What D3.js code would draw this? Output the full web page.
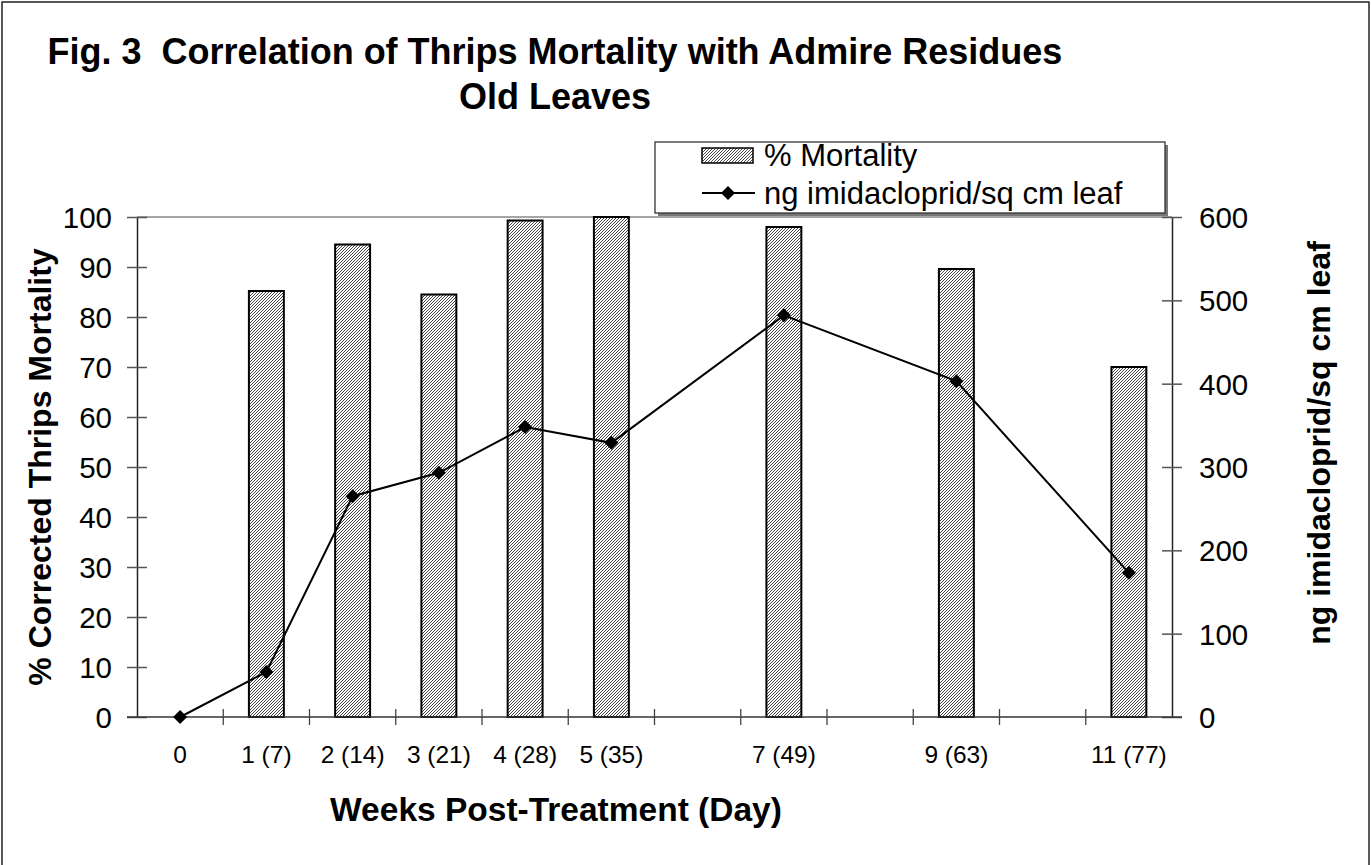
<!DOCTYPE html>
<html><head><meta charset="utf-8">
<script src="https://cdn.jsdelivr.net/npm/d3@7"></script>
<style>body{margin:0;background:#fff;} svg{display:block;} text{font-family:Arial,"Liberation Sans",sans-serif;fill:#000;}</style>
</head><body><svg id="c" width="1371" height="865"></svg>
<script>
const weeks = ["0","1","2","3","4","5","6","7","8","9","10","11"];
const weekLabels = ["0","1 (7)","2 (14)","3 (21)","4 (28)","5 (35)","","7 (49)","","9 (63)","","11 (77)"];
const mortality = [null,85.2,94.5,84.5,99.3,100,null,98,null,89.6,null,70];
const residue = [0,54,265,293,348,329,null,482,null,403,null,173];
const leftTicks = [0,10,20,30,40,50,60,70,80,90,100];
const rightTicks = [0,100,200,300,400,500,600];
const titleLines = ["Fig. 3  Correlation of Thrips Mortality with Admire Residues","Old Leaves"];
const legendLabels = ["% Mortality","ng imidacloprid/sq cm leaf"];

const svg = d3.select("#c");
const L = 137, R = 1172, T = 217, B = 717;

const defs = svg.append("defs");
const pat = defs.append("pattern").attr("id","hatch").attr("patternUnits","userSpaceOnUse")
  .attr("width",3).attr("height",3);
pat.append("rect").attr("width",3).attr("height",3).attr("fill","#fff");
pat.append("path").attr("d","M-1,1 L1,-1 M0,3 L3,0 M2,4 L4,2").attr("stroke","#3a3a3a").attr("stroke-width",0.95);

// outer border
svg.append("rect").attr("x",2).attr("y",2).attr("width",1367).attr("height",870)
  .attr("fill","none").attr("stroke","#222").attr("stroke-width",1.5);

const x = d3.scaleBand().domain(weeks).range([L,R]).padding(0);
const yL = d3.scaleLinear().domain([0,100]).range([B,T]);
const yR = d3.scaleLinear().domain([0,600]).range([B,T]);

// plot top border
svg.append("line").attr("x1",L).attr("x2",R).attr("y1",T).attr("y2",T).attr("stroke","#888").attr("stroke-width",1.5);

// bars
const bw = x.bandwidth()*0.405;
svg.append("g").selectAll("rect").data(weeks.map((w,i)=>({w,v:mortality[i]})).filter(d=>d.v!=null))
  .join("rect")
  .attr("x",d=>x(d.w)+x.bandwidth()/2-bw/2)
  .attr("y",d=>yL(d.v))
  .attr("width",bw)
  .attr("height",d=>B-yL(d.v))
  .attr("fill","url(#hatch)").attr("stroke","#000").attr("stroke-width",2);

// left axis
const gL = svg.append("g").attr("transform",`translate(${L},0)`)
  .call(d3.axisLeft(yL).tickValues(leftTicks).tickSize(10).tickSizeOuter(0).tickPadding(0));
gL.select(".domain").attr("stroke","#222").attr("stroke-width",1.5);
gL.selectAll(".tick line").attr("x1",-10).attr("x2",10).attr("stroke","#555").attr("stroke-width",1.5);
gL.selectAll(".tick text").attr("x",-25).attr("dy","0.36em").style("font-size","29.5px").style("font-family","Arial, 'Liberation Sans', sans-serif");

// right axis
const gR = svg.append("g").attr("transform",`translate(${R},0)`)
  .call(d3.axisRight(yR).tickValues(rightTicks).tickSize(10).tickSizeOuter(0).tickPadding(0));
gR.select(".domain").attr("stroke","#222").attr("stroke-width",1.5);
gR.selectAll(".tick line").attr("x1",-10).attr("x2",10).attr("stroke","#555").attr("stroke-width",1.5);
gR.selectAll(".tick text").attr("x",27).attr("dy","0.36em").style("font-size","29.5px").style("font-family","Arial, 'Liberation Sans', sans-serif");

// x axis
const gX = svg.append("g").attr("transform",`translate(0,${B})`)
  .call(d3.axisBottom(x).tickSize(0).tickPadding(0).tickFormat((d,i)=>weekLabels[i]));
gX.select(".domain").remove();
gX.append("line").attr("x1",L-10).attr("x2",R+10).attr("stroke","#333").attr("stroke-width",1.5);
gX.selectAll(".tick text").attr("y",46).attr("dy",0).style("font-size","24.5px").style("font-family","Arial, 'Liberation Sans', sans-serif");
const edges = weeks.map(w=>x(w)).concat([x.range()[1]]);
gX.selectAll("line.edge").data(edges.slice(1,-1)).join("line").attr("class","edge")
  .attr("x1",d=>d).attr("x2",d=>d).attr("y1",-8).attr("y2",8).attr("stroke","#444").attr("stroke-width",1.3);

// line series
const pts = weeks.map((w,i)=>({w,v:residue[i]})).filter(d=>d.v!=null);
const cx = d=>x(d.w)+x.bandwidth()/2;
svg.append("path").datum(pts)
  .attr("d",d3.line().x(cx).y(d=>yR(d.v)))
  .attr("fill","none").attr("stroke","#000").attr("stroke-width",2);
const diamond = "M0,-7L7,0L0,7L-7,0Z";
svg.append("g").selectAll("path").data(pts).join("path")
  .attr("d",diamond).attr("transform",d=>`translate(${cx(d)},${yR(d.v)})`).attr("fill","#000");

// titles
const tg = svg.append("text").attr("text-anchor","middle").style("font-size","36px").style("font-weight","bold").style("white-space","pre");
tg.selectAll("tspan").data(titleLines).join("tspan").attr("x",555).attr("y",(d,i)=>64+i*45).text(d=>d);

svg.append("text").attr("transform","translate(51,467) rotate(-90)").attr("text-anchor","middle")
  .style("font-size","32px").style("font-weight","bold").text("% Corrected Thrips Mortality");
svg.append("text").attr("transform","translate(1330,443) rotate(-90)").attr("text-anchor","middle")
  .style("font-size","32px").style("font-weight","bold").text("ng imidacloprid/sq cm leaf");
svg.append("text").attr("x",556).attr("y",821).attr("text-anchor","middle")
  .style("font-size","33.5px").style("font-weight","bold").text("Weeks Post-Treatment (Day)");

// legend
const lg = svg.append("g");
lg.append("rect").attr("x",658).attr("y",145).attr("width",510).attr("height",71).attr("fill","#777");
lg.append("rect").attr("x",655).attr("y",142).attr("width",510).attr("height",71).attr("fill","#fff").attr("stroke","#333").attr("stroke-width",1.3);
lg.append("rect").attr("x",702).attr("y",148).attr("width",51).attr("height",15).attr("fill","url(#hatch)").attr("stroke","#000").attr("stroke-width",1.5);
lg.append("line").attr("x1",702).attr("x2",755).attr("y1",193).attr("y2",193).attr("stroke","#000").attr("stroke-width",2);
lg.append("path").attr("d",diamond).attr("transform","translate(728,193)").attr("fill","#000");
lg.selectAll("text.lt").data(legendLabels).join("text").attr("class","lt")
  .attr("x",764).attr("y",(d,i)=>166+i*38).style("font-size","31px").text(d=>d);
</script></body></html>
